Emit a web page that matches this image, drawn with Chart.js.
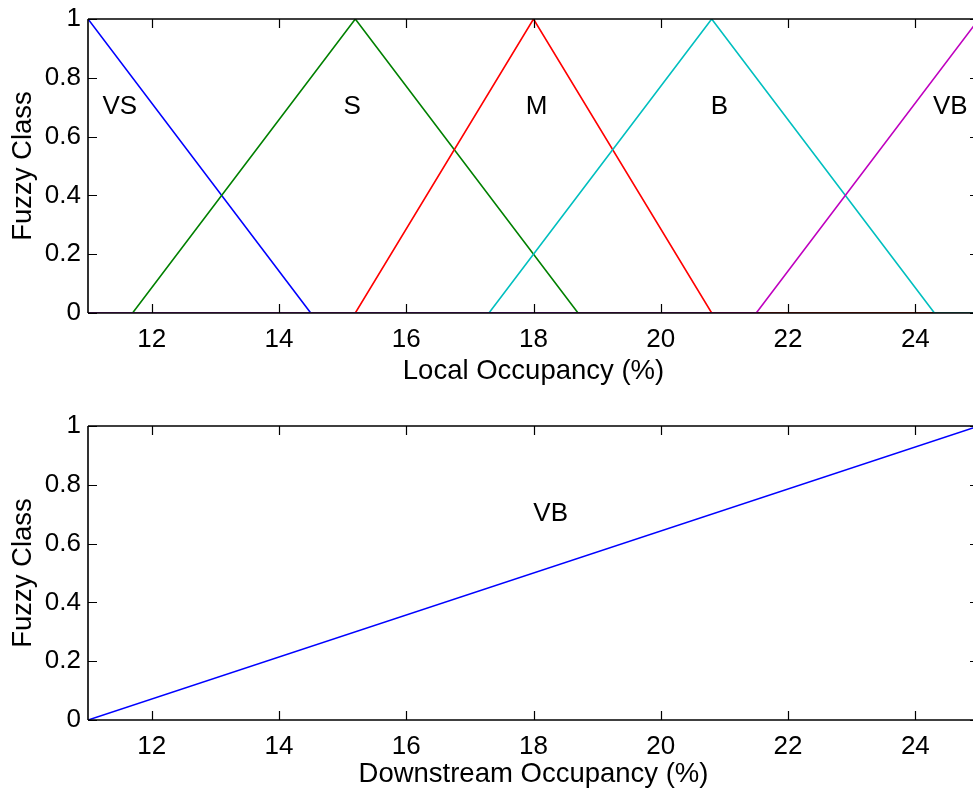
<!DOCTYPE html>
<html>
<head>
<meta charset="utf-8">
<script src="https://cdn.jsdelivr.net/npm/chart.js@4/dist/chart.umd.min.js"></script>
<style>
  html, body { margin: 0; padding: 0; width: 973px; height: 790px; overflow: hidden; background: #fff; }
  .box { position: absolute; left: 0; width: 990px; }
  #b1 { top: 0; height: 400px; }
  #b2 { top: 400px; height: 390px; }
</style>
</head>
<body>
<div class="box" id="b1"><canvas id="c1"></canvas></div>
<div class="box" id="b2"><canvas id="c2"></canvas></div>
<script>
// ---- data ----
const xTicks = [12, 14, 16, 18, 20, 22, 24];
const yTicks = [0, 0.2, 0.4, 0.6, 0.8, 1];

const vsX = [11, 14.5, 25];            const vsY = [1, 0, 0];
const sX  = [11, 11.7, 15.2, 18.7, 25]; const sY  = [0, 0, 1, 0, 0];
const mX  = [11, 15.2, 18, 20.8, 25];   const mY  = [0, 0, 1, 0, 0];
const bX  = [11, 17.3, 20.8, 24.3, 25]; const bY  = [0, 0, 1, 0, 0];
const vbX = [11, 21.5, 25];             const vbY = [0, 0, 1];

const downX = [11, 25];  const downY = [0, 1];

const topLabels  = ['VS', 'S', 'M', 'B', 'VB'];
const topLabelX  = [11.5, 15.15, 18.05, 20.92, 24.55];
const topLabelY  = [0.7, 0.7, 0.7, 0.7, 0.7];
const botLabels  = ['VB'];
const botLabelX  = [18.27];
const botLabelY  = [0.7];

const FONT = "'Liberation Sans', Arial, Helvetica, sans-serif";

function pts(xs, ys) { return xs.map((x, i) => ({ x: x, y: ys[i] })); }

// inward ticks + frame
const framePlugin = {
  id: 'frame',
  afterDatasetsDraw(chart) {
    const { ctx, chartArea: a, scales } = chart;
    ctx.save();
    ctx.strokeStyle = '#000';
    ctx.lineWidth = 1.6;
    ctx.beginPath();
    ctx.moveTo(a.left, a.top); ctx.lineTo(a.right, a.top);
    ctx.moveTo(a.left, a.top); ctx.lineTo(a.left, a.bottom);
    ctx.moveTo(a.right, a.top); ctx.lineTo(a.right, a.bottom);
    ctx.stroke();
    const L = 9;
    ctx.lineWidth = 1.2;
    ctx.beginPath();
    scales.x.ticks.forEach(t => {
      const px = Math.round(scales.x.getPixelForValue(t.value)) + 0.5;
      ctx.moveTo(px, a.bottom); ctx.lineTo(px, a.bottom - L);
      ctx.moveTo(px, a.top); ctx.lineTo(px, a.top + L);
    });
    scales.y.ticks.forEach(t => {
      const py = Math.round(scales.y.getPixelForValue(t.value)) + 0.5;
      ctx.moveTo(a.left, py); ctx.lineTo(a.left + L, py);
      ctx.moveTo(a.right, py); ctx.lineTo(a.right - L, py);
    });
    ctx.stroke();
    ctx.lineWidth = 1.6;
    ctx.beginPath();
    ctx.moveTo(a.left, a.bottom); ctx.lineTo(a.right, a.bottom);
    ctx.stroke();
    // labels
    const o = chart.options.plugins.frame;
    ctx.fillStyle = '#000';
    ctx.font = '26px ' + FONT;
    ctx.textAlign = 'center';
    ctx.textBaseline = 'middle';
    o.labels.forEach((s, i) => {
      ctx.fillText(s, scales.x.getPixelForValue(o.lx[i]), scales.y.getPixelForValue(o.ly[i]));
    });
    ctx.restore();
  }
};

function makeChart(id, datasets, xTitle, labels, lx, ly, topPad, xAxisH, botPad) {
  return new Chart(document.getElementById(id), {
    type: 'scatter',
    data: { datasets: datasets },
    options: {
      responsive: true,
      maintainAspectRatio: false,
      animation: false,
      layout: { padding: { top: topPad, right: 11, left: 0, bottom: botPad } },
      plugins: {
        legend: { display: false },
        tooltip: { enabled: false },
        frame: { labels: labels, lx: lx, ly: ly }
      },
      elements: { point: { radius: 0 } },
      scales: {
        x: {
          type: 'linear', min: 11, max: 25,
          afterBuildTicks: s => { s.ticks = xTicks.map(v => ({ value: v })); },
          afterFit: s => { s.height = xAxisH; s.paddingLeft = 0; s.paddingRight = 0; },
          grid: { display: true, drawOnChartArea: false, drawTicks: false, color: 'rgba(0,0,0,0)' },
          border: { display: false },
          ticks: { color: '#000', font: { family: FONT, size: 26 }, padding: 11, maxRotation: 0, callback: v => String(v) },
          title: { display: true, text: xTitle, color: '#000', font: { family: FONT, size: 27.5, lineHeight: 1.1 }, padding: { top: 0, bottom: 0 } }
        },
        y: {
          type: 'linear', min: 0, max: 1,
          afterBuildTicks: s => { s.ticks = yTicks.map(v => ({ value: v })); },
          afterFit: s => { s.width = 88; s.paddingTop = 0; s.paddingBottom = 0; },
          grid: { display: true, drawOnChartArea: false, drawTicks: false, color: 'rgba(0,0,0,0)' },
          border: { display: false },
          ticks: { color: '#000', font: { family: FONT, size: 26 }, padding: 7, callback: v => String(v) },
          title: { display: true, text: 'Fuzzy Class', color: '#000', font: { family: FONT, size: 27.5 }, padding: { top: 7, bottom: 0 } }
        }
      }
    },
    plugins: [framePlugin]
  });
}

function ds(xs, ys, color, order) {
  return { data: pts(xs, ys), showLine: true, borderColor: color, borderWidth: 1.6, pointRadius: 0, fill: false, order: order, tension: 0 };
}

makeChart('c1', [
  ds(vsX, vsY, '#0000ff', 5),
  ds(sX, sY, '#008000', 4),
  ds(mX, mY, '#ff0000', 3),
  ds(bX, bY, '#00bfbf', 2),
  ds(vbX, vbY, '#bf00bf', 1)
], 'Local Occupancy (%)', topLabels, topLabelX, topLabelY, 19, 74, 13);

makeChart('c2', [
  ds(downX, downY, '#0000ff', 1)
], 'Downstream Occupancy (%)', botLabels, botLabelX, botLabelY, 26, 70, 0);
</script>
</body>
</html>
